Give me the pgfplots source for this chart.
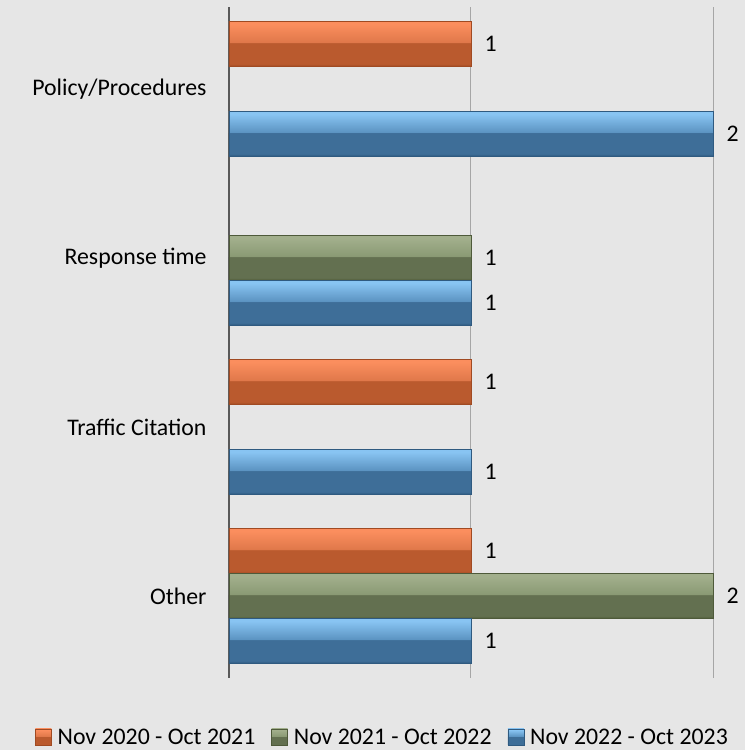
\documentclass[border=0pt]{standalone}
\usepackage{pgfplots}
\pgfplotsset{compat=1.18}
\usepackage{fontspec}
\setmainfont{Carlito}
\definecolor{bg}{HTML}{E6E6E6}
\definecolor{gridc}{HTML}{A6A6A6}
\definecolor{axisc}{HTML}{595959}
% orange
\definecolor{oE}{HTML}{A04A22}
\definecolor{oH1}{HTML}{FB8E5E}
\definecolor{oH2}{HTML}{E0784A}
\definecolor{oM}{HTML}{BA5A2E}
\definecolor{oD}{HTML}{A85026}
% green
\definecolor{gE}{HTML}{4E5A3A}
\definecolor{gH1}{HTML}{A2AF8C}
\definecolor{gH2}{HTML}{8A9A74}
\definecolor{gM}{HTML}{637050}
\definecolor{gD}{HTML}{56623F}
% blue
\definecolor{bE}{HTML}{2F5A80}
\definecolor{bH1}{HTML}{88C4F2}
\definecolor{bH2}{HTML}{5C94C2}
\definecolor{bM}{HTML}{3E6E98}
\definecolor{bD}{HTML}{335F86}
\pgfdeclareverticalshading{obar}{100bp}{color(0bp)=(oD); color(26bp)=(oD); color(28bp)=(oM); color(51bp)=(oM); color(52bp)=(oH2); color(72bp)=(oH1); color(75bp)=(oH1); color(100bp)=(oH1)}
\pgfdeclareverticalshading{gbar}{100bp}{color(0bp)=(gD); color(26bp)=(gD); color(28bp)=(gM); color(51bp)=(gM); color(52bp)=(gH2); color(72bp)=(gH1); color(75bp)=(gH1); color(100bp)=(gH1)}
\pgfdeclareverticalshading{bbar}{100bp}{color(0bp)=(bD); color(26bp)=(bD); color(28bp)=(bM); color(51bp)=(bM); color(52bp)=(bH2); color(72bp)=(bH1); color(75bp)=(bH1); color(100bp)=(bH1)}
\newcommand{\txt}{\fontsize{23.8bp}{28bp}\selectfont}
\pgfplotsset{
  ostyle/.style={shading=obar, draw=oE, line width=0.6bp, bar shift=-0.266},
  gstyle/.style={shading=gbar, draw=gE, line width=0.6bp, bar shift=0},
  bstyle/.style={shading=bbar, draw=bE, line width=0.6bp, bar shift=0.266},
}
\begin{document}
\begin{tikzpicture}
\useasboundingbox (-229bp,-72bp) rectangle (516bp,678bp);
\fill[bg] (-229bp,-72bp) rectangle (516bp,678bp);
\begin{axis}[
  at={(0,0)}, anchor=south west,
  scale only axis, width=484bp, height=671bp,
  xbar, bar width=0.266, clip=false,
  xmin=0, xmax=2, ymin=-0.485, ymax=3.485, y dir=reverse,
  ytick={0,1,2,3},
  yticklabels={Policy/Procedures, Response time, Traffic Citation, Other},
  yticklabel style={font=\txt, text=black, xshift=-19bp},
  xtick={1,2}, xticklabels={},
  extra x ticks={0}, extra x tick labels={},
  extra x tick style={grid style={color=axisc, line width=1.2bp}},
  xmajorgrids, grid style={color=gridc, line width=1bp},
  major tick length=0pt,
  axis line style={draw=none},
  /pgf/number format/assume math mode=true,
  nodes near coords,
  every node near coord/.append style={font=\txt, text=black, anchor=west, xshift=10bp},
  legend columns=3,
  legend style={at={(0.317,-0.0894)}, anchor=center, draw=none, fill=none, font=\txt,
     /tikz/every odd column/.append style={column sep=4bp},
     /tikz/every even column/.append style={column sep=14bp}},
  legend image code/.code={\path[#1] (0bp,-7bp) rectangle (16bp,9bp);},
]
% Nov 2020 - Oct 2021
\addplot[ostyle] coordinates {(1,0)};
\addlegendentry{Nov 2020 - Oct 2021}
\addplot[ostyle, forget plot] coordinates {(1,2)};
\addplot[ostyle, forget plot] coordinates {(1,3)};
% Nov 2021 - Oct 2022
\addplot[gstyle] coordinates {(1,1)};
\addlegendentry{Nov 2021 - Oct 2022}
\addplot[gstyle, forget plot] coordinates {(2,3)};
% Nov 2022 - Oct 2023
\addplot[bstyle] coordinates {(2,0)};
\addlegendentry{Nov 2022 - Oct 2023}
\addplot[bstyle, forget plot] coordinates {(1,1)};
\addplot[bstyle, forget plot] coordinates {(1,2)};
\addplot[bstyle, forget plot] coordinates {(1,3)};
\end{axis}
\end{tikzpicture}
\end{document}
